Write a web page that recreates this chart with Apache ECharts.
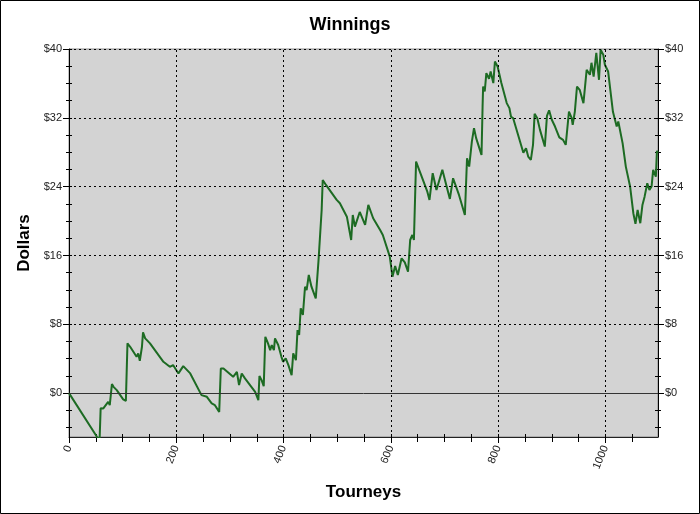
<!DOCTYPE html>
<html>
<head>
<meta charset="utf-8">
<script src="https://cdn.jsdelivr.net/npm/echarts@6/dist/echarts.min.js"></script>
<style>html,body{margin:0;padding:0;background:#fff;}#c{width:700px;height:514px;}</style>
</head>
<body>
<div id="c"></div>
<script>
const tourneys = [0,52,57,59,59,64,67,73,76,80,83,89,101,106,109,114,126,129,132,136,138,142,151,176,188,194,204,213,226,247,257,266,272,280,283,288,306,313,317,322,328,347,353,355,359,363,366,371,375,378,382,384,390,396,399,404,409,415,418,423,426,429,432,436,440,443,447,452,460,465,468,471,473,479,499,505,518,526,529,533,542,552,558,567,580,585,598,603,608,613,620,626,632,636,640,643,647,654,668,672,678,685,696,704,710,716,727,738,742,746,751,755,759,769,771,772,775,778,783,786,791,794,799,806,816,821,824,828,847,852,856,861,865,868,873,878,887,891,895,900,906,914,921,926,932,937,939,943,947,952,959,965,971,974,978,983,988,991,996,999,1005,1014,1021,1024,1032,1038,1046,1052,1056,1060,1065,1069,1073,1078,1082,1086,1089,1094,1096,1098];
const dollars = [0,-5.08,-5.47,-5.47,-1.75,-1.78,-1.98,-1.01,-1.40,1.05,0.73,0.35,-0.73,-0.90,5.78,5.39,4.22,4.62,3.76,5.39,7.06,6.36,5.78,3.64,3.06,3.26,2.29,3.14,2.29,-0.23,-0.43,-1.20,-1.40,-2.18,2.87,2.87,1.90,2.48,0.93,2.29,1.71,0.15,-0.81,1.98,1.51,0.81,6.55,5.78,5.00,5.59,5.00,6.36,5.59,4.22,3.64,4.04,3.26,2.09,4.62,3.84,7.33,6.75,9.86,9.08,12.37,11.98,13.73,12.37,11.02,15.28,15.09,21.29,24.78,24.20,22.46,22.07,20.51,17.80,20.71,19.35,21.06,19.55,21.88,20.33,18.97,18.38,15.86,13.53,14.78,13.73,15.67,15.19,14.11,17.80,18.38,17.80,26.91,25.75,23.42,22.46,25.56,23.62,25.95,24.01,22.57,24.98,23.04,20.71,27.31,26.33,29.24,30.80,29.64,27.69,33.31,35.64,35.06,37.20,36.54,37.39,36.04,38.55,37.97,36.04,33.71,33.13,32.12,31.96,27.93,28.47,27.50,27.11,28.86,32.46,31.96,30.60,28.66,32.23,32.87,31.77,30.99,29.73,29.44,28.86,32.73,32.00,31.18,32.73,35.64,35.26,33.71,37.58,37.00,38.40,36.80,39.56,36.42,39.91,39.33,38.17,37.39,32.70,30.99,31.57,29.06,26.33,24.01,20.91,19.67,21.29,19.75,21.88,22.84,24.40,23.62,24.01,25.95,25.17,28.16,27.93];
const xMajorTicks = [0,200,400,600,800,1000];
const xMinorTicks = [50,100,150,250,300,350,450,500,550,650,700,750,850,900,950,1050];
const yMajorTicks = [0,8,16,24,32,40];
const yMinorTicks = [-4,-2,2,4,6,10,12,14,18,20,22,26,28,30,34,36,38];

const X_MIN = 0, X_MAX = 1098, Y_MIN = -5.1, Y_MAX = 40;
const font = 'Liberation Sans, Arial, sans-serif';

function yAx(pos, ticks, len, labels, inside, extra) {
  return Object.assign({
    type: 'value', position: pos, min: Y_MIN, max: Y_MAX,
    axisLine: {show: labels, onZero: false, lineStyle: {color: '#000', width: 1}},
    axisTick: {show: true, inside: !!inside, customValues: ticks, length: len, lineStyle: {color: '#000'}},
    axisLabel: labels ? {show: true, customValues: ticks, formatter: v => '$' + v, color: '#222', fontSize: 11, fontFamily: font, margin: 7} : {show: false},
    splitLine: {show: false}
  }, extra || {});
}
function xAx(ticks, len, labels, inside, extra) {
  return Object.assign({
    type: 'value', position: 'bottom', min: X_MIN, max: X_MAX,
    axisLine: {show: labels, onZero: false, lineStyle: {color: '#222', width: 1}},
    axisTick: {show: true, inside: !!inside, customValues: ticks, length: len, lineStyle: {color: '#000'}},
    axisLabel: labels ? {show: true, customValues: ticks, rotate: 68, formatter: v => String(v), color: '#222', fontSize: 11, fontFamily: font, margin: 9} : {show: false},
    splitLine: {show: false}
  }, extra || {});
}

const gridLineData = yMajorTicks.filter(v => v !== 0).map(v => ({yAxis: v}))
  .concat(xMajorTicks.filter(v => v !== 0).map(v => ({xAxis: v})));

const chart = echarts.init(document.getElementById('c'), null, {renderer: 'canvas'});
chart.setOption({
  animation: false,
  backgroundColor: '#fff',
  title: {text: 'Winnings', left: 'center', top: 11, textStyle: {fontSize: 18, fontWeight: 'bold', color: '#000', fontFamily: font}},
  grid: {left: 69, right: 42, top: 49, bottom: 77, show: true, backgroundColor: '#d3d3d3', borderColor: '#888', borderWidth: 1},
  xAxis: [
    xAx(xMajorTicks, 6, true, false, {name: 'Tourneys', nameLocation: 'middle', nameGap: 47, nameTextStyle: {fontSize: 17, fontWeight: 'bold', color: '#000', fontFamily: font}}),
    xAx(xMinorTicks, 5, false, false),
    xAx(xMajorTicks.concat(xMinorTicks), 3, false, true)
  ],
  yAxis: [
    yAx('left', yMajorTicks, 6, true, false, {name: 'Dollars', nameLocation: 'middle', nameGap: 35, nameTextStyle: {fontSize: 17, fontWeight: 'bold', color: '#000', fontFamily: font}}),
    yAx('left', yMinorTicks, 3, false, false),
    yAx('left', yMajorTicks.concat(yMinorTicks), 3, false, true),
    yAx('right', yMajorTicks, 6, true, false),
    yAx('right', yMinorTicks, 3, false, false),
    yAx('right', yMajorTicks.concat(yMinorTicks), 3, false, true)
  ],
  graphic: [{type: 'rect', shape: {x: 0.5, y: 0.5, width: 699, height: 513}, style: {fill: 'none', stroke: '#000', lineWidth: 1}, silent: true, z: 100}],
  series: [
    {
      type: 'line', xAxisIndex: 0, yAxisIndex: 0, data: [], z: 1, silent: true,
      markLine: {
        silent: true, symbol: ['none', 'none'], label: {show: false},
        lineStyle: {type: [2, 3], color: '#000', width: 1},
        data: gridLineData.concat([{yAxis: 0, lineStyle: {type: 'solid', color: '#333', width: 1}}])
      }
    },
    {
      type: 'line', xAxisIndex: 0, yAxisIndex: 0, z: 3,
      data: tourneys.map((t, i) => [t, dollars[i]]),
      showSymbol: false, symbol: 'none', clip: true,
      lineStyle: {color: '#1d6b23', width: 2}
    }
  ]
});
</script>
</body>
</html>
